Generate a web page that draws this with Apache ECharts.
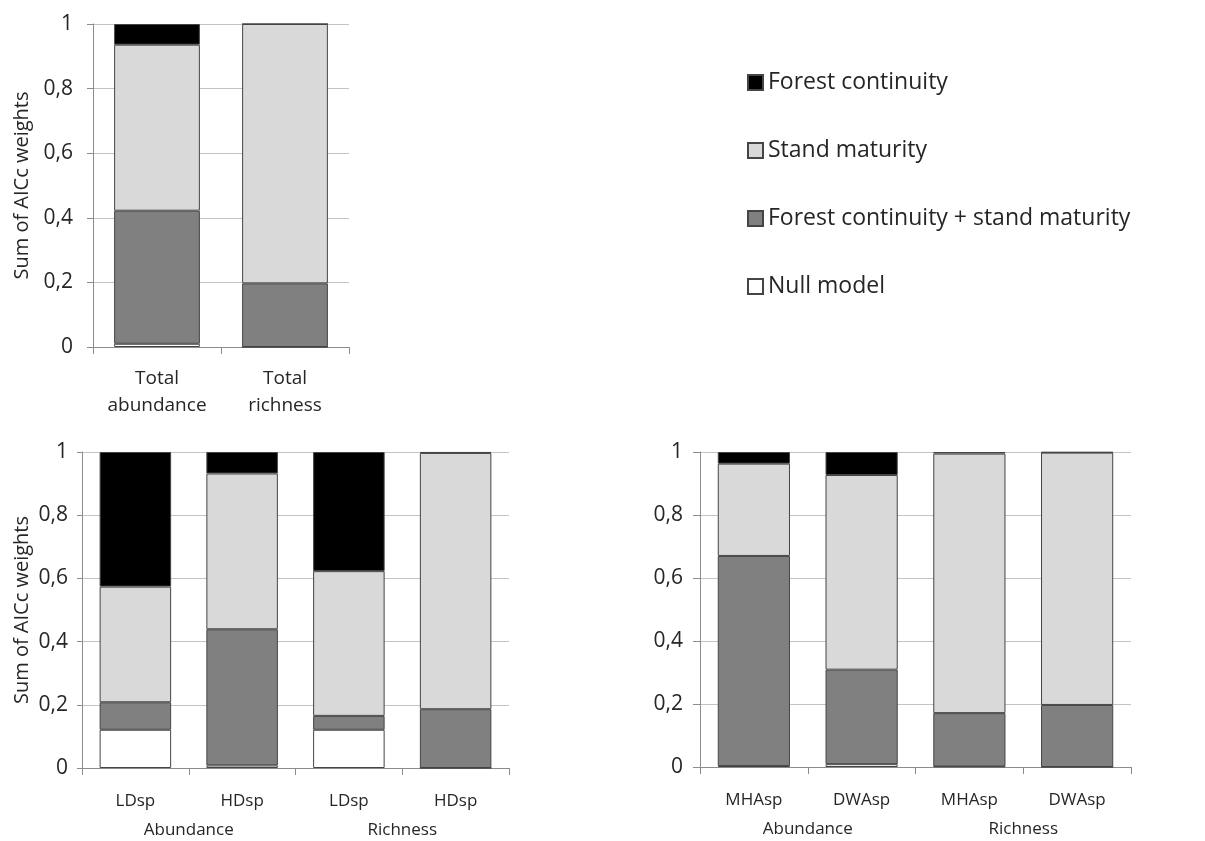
<!DOCTYPE html>
<html>
<head>
<meta charset="utf-8">
<script src="https://cdn.jsdelivr.net/npm/echarts@6/dist/echarts.min.js"></script>
<style>html,body{margin:0;padding:0;background:#fff}#c{width:1205px;height:841px}</style>
</head>
<body>
<div id="c"></div>
<script>
// ---- data ----
const seriesNames = ['Forest continuity', 'Stand maturity', 'Forest continuity + stand maturity', 'Null model'];
const yTicks = ['0', '0,2', '0,4', '0,6', '0,8', '1'];

// Panel A (top)
const catsA = ['Total\nabundance', 'Total\nrichness'];
const nullA = [0.01, 0.0];
const fcsmA = [0.412, 0.197];
const smA = [0.514, 0.803];
const fcA = [0.064, 0.0];

// Panel B (bottom-left)
const catsB = ['LDsp', 'HDsp', 'LDsp', 'HDsp'];
const groupsB = ['Abundance', 'Richness'];
const nullB = [0.121, 0.008, 0.121, 0.0];
const fcsmB = [0.087, 0.431, 0.044, 0.186];
const smB = [0.366, 0.493, 0.458, 0.811];
const fcB = [0.426, 0.068, 0.377, 0.003];

// Panel C (bottom-right)
const catsC = ['MHAsp', 'DWAsp', 'MHAsp', 'DWAsp'];
const groupsC = ['Abundance', 'Richness'];
const nullC = [0.003, 0.009, 0.002, 0.0];
const fcsmC = [0.667, 0.300, 0.169, 0.197];
const smC = [0.293, 0.618, 0.824, 0.801];
const fcC = [0.037, 0.073, 0.005, 0.002];

// ---- styling ----
const colors = {
  'Forest continuity': '#000000',
  'Stand maturity': '#d9d9d9',
  'Forest continuity + stand maturity': '#808080',
  'Null model': '#ffffff'
};
const FONT = 'Open Sans';
const TXT = '#262626';
const AX = '#8c8c8c';
const GRIDC = '#c4c4c4';

const chart = echarts.init(document.getElementById('c'));

function yAxis(gi, margin, tick, name, gap) {
  return {
    type: 'value', gridIndex: gi, min: 0, max: 1, interval: 0.2,
    name: name || '', nameLocation: 'middle', nameGap: gap || 50, nameRotate: 90,
    nameTextStyle: { fontFamily: FONT, fontSize: 20, color: TXT },
    axisLine: { show: true, lineStyle: { color: AX, width: 1 } },
    axisTick: { show: true, length: tick, lineStyle: { color: AX } },
    splitLine: { show: true, lineStyle: { color: GRIDC, width: 1 } },
    axisLabel: {
      margin: margin, fontFamily: FONT, fontSize: 21, color: TXT,
      formatter: (v) => yTicks[Math.round(v * 5)]
    }
  };
}
function xAxis(gi, cats, margin, fs) {
  return {
    type: 'category', gridIndex: gi, data: cats,
    axisLine: { show: true, lineStyle: { color: AX, width: 1 } },
    axisTick: { show: true, length: 7, interval: 0, alignWithLabel: false, lineStyle: { color: AX } },
    axisLabel: { margin: margin, interval: 0, fontFamily: FONT, fontSize: fs, color: TXT, lineHeight: 27 }
  };
}
function groupAxis(gi, groups, offset) {
  return {
    type: 'category', gridIndex: gi, data: groups, position: 'bottom', offset: offset,
    axisLine: { show: false }, axisTick: { show: false },
    axisLabel: { margin: 0, interval: 0, fontFamily: FONT, fontSize: 17, color: TXT, verticalAlign: 'top' }
  };
}

const panels = [
  { x: 0, y: 0, data: [fcA, smA, fcsmA, nullA] },
  { x: 1, y: 1, data: [fcB, smB, fcsmB, nullB] },
  { x: 3, y: 2, data: [fcC, smC, fcsmC, nullC] }
];
const series = [];
panels.forEach((p, pi) => {
  // stack bottom-up: null, fc+sm, sm, fc
  [3, 2, 1, 0].forEach((si) => {
    series.push({
      type: 'bar', name: seriesNames[si], xAxisIndex: p.x, yAxisIndex: p.y,
      stack: 'p' + pi, data: p.data[si], barCategoryGap: '33%',
      itemStyle: { color: colors[seriesNames[si]], borderColor: '#454545', borderWidth: 1 },
      emphasis: { disabled: true }
    });
  });
});

chart.setOption({
  animation: false,
  backgroundColor: '#ffffff',
  grid: [
    { left: 93, top: 24, width: 256, height: 323 },
    { left: 82, top: 452, width: 427, height: 316 },
    { left: 700, top: 452, width: 431, height: 315 }
  ],
  legend: {
    orient: 'vertical', left: 742, top: 66, itemGap: 45,
    itemWidth: 15, itemHeight: 15, icon: 'rect',
    data: seriesNames,
    textStyle: { fontFamily: FONT, fontSize: 23, color: TXT },
    selectedMode: false
  },
  xAxis: [
    xAxis(0, catsA, 18, 19),
    xAxis(1, catsB, 20, 17),
    groupAxis(1, groupsB, 54),
    xAxis(2, catsC, 20, 17),
    groupAxis(2, groupsC, 54)
  ],
  yAxis: [
    yAxis(0, 20, 6, 'Sum of AICc weights', 61),
    yAxis(1, 14, 5, 'Sum of AICc weights', 50),
    yAxis(2, 17, 7, '')
  ],
  series: series
});
</script>
</body>
</html>
